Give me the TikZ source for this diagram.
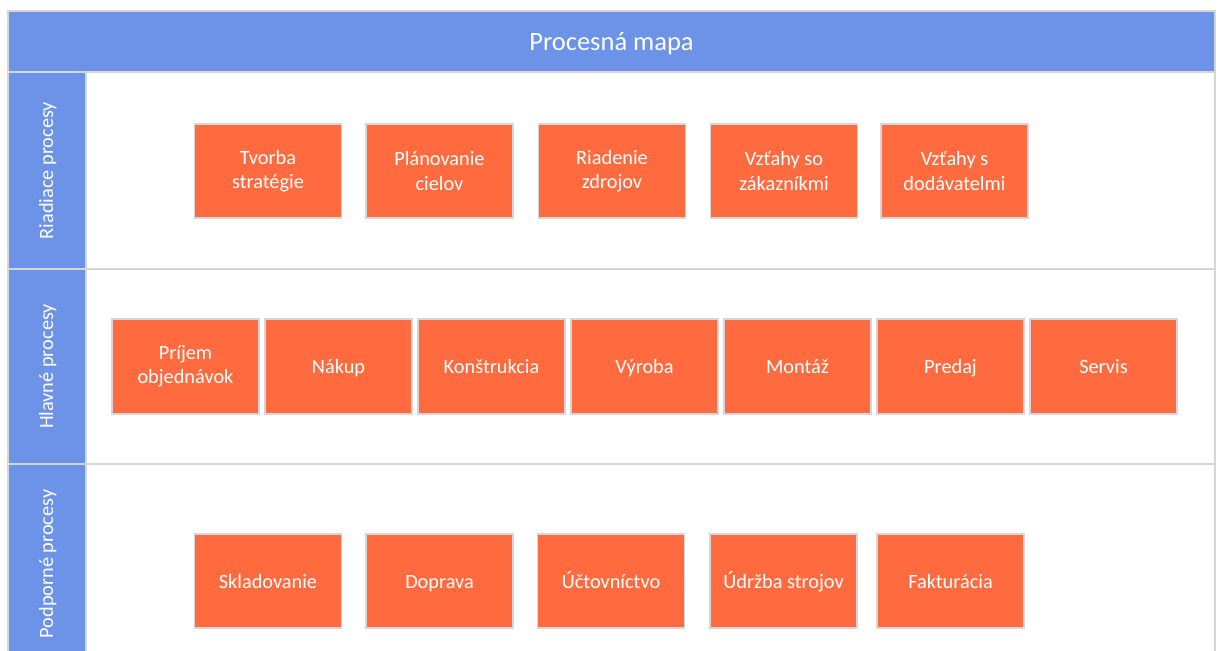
\documentclass[tikz,border=0pt]{standalone}
\usepackage{fontspec}
\setmainfont{Carlito}
\definecolor{headblue}{HTML}{6D93E8}
\definecolor{procfill}{HTML}{FF6B3F}
\definecolor{rulegray}{HTML}{D6D6D6}
\begin{document}
\begin{tikzpicture}[x=1pt,y=-1pt,
  titlebar/.style={draw=rulegray, line width=1.2pt, fill=headblue, text=white,
    minimum width=1207pt, minimum height=61pt, inner sep=0pt,
    text height=19pt, text depth=2pt,
    font=\fontsize{26.5}{32}\selectfont},
  lanehead/.style={draw=rulegray, line width=1.2pt, fill=headblue, text=white,
    rotate=90, minimum height=78pt, inner sep=0pt,
    text height=15pt, text depth=3pt,
    font=\fontsize{20.3}{24.5}\selectfont},
  lanebody/.style={draw=rulegray, line width=1.2pt, fill=white,
    minimum width=1129pt, inner sep=0pt},
  procbase/.style={draw=rulegray, line width=1.2pt, fill=procfill, text=white,
    minimum width=147pt, minimum height=94pt, align=center, inner sep=0pt,
    font=\fontsize{20.3}{24.5}\selectfont},
  proc/.style={procbase, text height=16pt, text depth=2pt},
  proctwo/.style={procbase}]
\useasboundingbox (0,0) rectangle (1219,651);
\clip (0,0) rectangle (1219,651);

% header
\node[titlebar] (title) at (611.5,41.5) {Procesná mapa};

% lanes: body and rotated heading
\node[lanebody, minimum height=197pt] (body1) at (650.5,170.5) {};
\node[lanebody, minimum height=195pt] (body2) at (650.5,366.5) {};
\node[lanebody, minimum height=200pt] (body3) at (650.5,564) {};
\node[lanehead, minimum width=197pt] (lane1) at (47,170.5) {Riadiace procesy};
\node[lanehead, minimum width=195pt] (lane2) at (47,366.5) {Hlavné procesy};
\node[lanehead, minimum width=200pt] (lane3) at (47,564) {Podporné procesy};

% management processes
\node[proctwo] (r1) at (268,171)   {Tvorba\\stratégie};
\node[proctwo] (r2) at (439.5,171) {Plánovanie\\cielov};
\node[proctwo] (r3) at (612,171)   {Riadenie\\zdrojov};
\node[proctwo] (r4) at (784,171)   {Vzťahy so\\zákazníkmi};
\node[proctwo] (r5) at (954.5,171) {Vzťahy s\\dodávatelmi};

% core processes
\node[proctwo, minimum height=95pt] (h1) at (185.5,366.5) {Príjem\\objednávok};
\node[proc, minimum height=95pt] (h2) at (338.5,366.5) {Nákup};
\node[proc, minimum height=95pt] (h3) at (491.5,366.5) {Konštrukcia};
\node[proc, minimum height=95pt] (h4) at (644.5,366.5) {Výroba};
\node[proc, minimum height=95pt] (h5) at (797.5,366.5) {Montáž};
\node[proc, minimum height=95pt] (h6) at (950.5,366.5) {Predaj};
\node[proc, minimum height=95pt] (h7) at (1103.5,366.5) {Servis};

% support processes
\node[proc] (p1) at (268,581)   {Skladovanie};
\node[proc] (p2) at (439.5,581) {Doprava};
\node[proc] (p3) at (611,581)   {Účtovníctvo};
\node[proc] (p4) at (783.5,581) {Údržba strojov};
\node[proc] (p5) at (950.5,581) {Fakturácia};
\end{tikzpicture}
\end{document}
